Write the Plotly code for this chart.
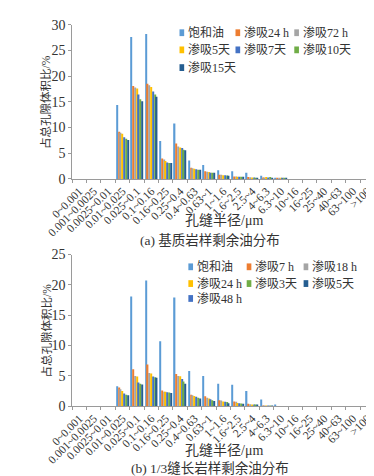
import plotly.graph_objects as go

W, H = 374, 476

categories = ["0~0.001", "0.001~0.0025", "0.0025~0.01", "0.01~0.025", "0.025~0.1",
              "0.1~0.16", "0.16~0.25", "0.25~0.4", "0.4~0.63", "0.63~1", "1~1.6",
              "1.6~2.5", "2.5~4", "4~6.3", "6.3~10", "10~16", "16~25", "25~40",
              "40~63", "63~100", ">100"]

# ---- panel (a): 基质岩样 ----
a_names = ["饱和油", "渗吸24 h", "渗吸72 h", "渗吸5天", "渗吸7天", "渗吸10天", "渗吸15天"]
a_sat   = [0, 0, 0, 14.4, 27.6, 28.2, 7.4, 10.8, 3.6, 2.7, 1.7, 1.5, 1.2, 0.6, 0.2, 0, 0, 0, 0, 0, 0]
a_24h   = [0, 0, 0, 9.2, 18.1, 18.5, 4.0, 6.9, 2.2, 1.5, 0.8, 0.5, 0.4, 0.3, 0.1, 0, 0, 0, 0, 0, 0]
a_72h   = [0, 0, 0, 9.0, 17.8, 18.2, 3.8, 6.3, 2.1, 1.4, 0.8, 0.5, 0.35, 0.3, 0.1, 0, 0, 0, 0, 0, 0]
a_5d    = [0, 0, 0, 8.8, 17.6, 17.9, 3.5, 6.1, 2.0, 1.35, 0.7, 0.45, 0.3, 0.4, 0.1, 0, 0, 0, 0, 0, 0]
a_7d    = [0, 0, 0, 8.1, 16.4, 17.0, 3.2, 6.0, 1.9, 1.2, 0.7, 0.45, 0.3, 0.3, 0.1, 0, 0, 0, 0, 0, 0]
a_10d   = [0, 0, 0, 7.8, 15.5, 16.4, 3.1, 5.7, 1.8, 1.2, 0.65, 0.45, 0.25, 0.4, 0.1, 0, 0, 0, 0, 0, 0]
a_15d   = [0, 0, 0, 7.6, 15.1, 16.0, 3.1, 5.6, 1.8, 1.2, 0.6, 0.45, 0.25, 0.2, 0.1, 0, 0, 0, 0, 0, 0]
a_series = [a_sat, a_24h, a_72h, a_5d, a_7d, a_10d, a_15d]
a_colors = ["#5B9BD5", "#ED7D31", "#A5A5A5", "#FFC000", "#4472C4", "#70AD47", "#255E91"]
a_legend_order = [0, 1, 2, 3, 4, 5, 6]

# ---- panel (b): 1/3缝长岩样 ----
b_names = ["饱和油", "渗吸7 h", "渗吸18 h", "渗吸24 h", "渗吸48 h", "渗吸3天", "渗吸5天"]
b_sat   = [0, 0, 0, 3.3, 18.1, 20.7, 10.7, 17.9, 5.8, 5.0, 3.7, 3.55, 2.5, 1.1, 0.25, 0, 0, 0, 0, 0, 0]
b_7h    = [0, 0, 0, 3.1, 6.1, 6.9, 2.6, 5.3, 1.9, 1.65, 1.0, 0.8, 0.4, 0.05, 0, 0, 0, 0, 0, 0, 0]
b_18h   = [0, 0, 0, 2.8, 5.0, 5.5, 2.4, 5.0, 1.8, 1.4, 0.95, 0.75, 0.35, 0.05, 0, 0, 0, 0, 0, 0, 0]
b_24h   = [0, 0, 0, 2.5, 4.9, 5.4, 2.4, 4.95, 1.7, 1.3, 0.8, 0.55, 0.3, 0.05, 0, 0, 0, 0, 0, 0, 0]
b_48h   = [0, 0, 0, 2.1, 3.9, 4.9, 2.3, 4.5, 1.55, 1.15, 0.75, 0.5, 0.25, 0.05, 0, 0, 0, 0, 0, 0, 0]
b_3d    = [0, 0, 0, 1.9, 3.7, 4.8, 2.25, 4.1, 1.4, 1.0, 0.7, 0.45, 0.2, 0.05, 0, 0, 0, 0, 0, 0, 0]
b_5d    = [0, 0, 0, 1.8, 3.6, 4.7, 2.2, 3.7, 1.3, 0.85, 0.5, 0.4, 0.2, 0.05, 0, 0, 0, 0, 0, 0, 0]
b_series = [b_sat, b_7h, b_18h, b_24h, b_48h, b_3d, b_5d]
b_colors = ["#5B9BD5", "#ED7D31", "#A5A5A5", "#FFC000", "#4472C4", "#70AD47", "#255E91"]
b_legend_order = [0, 1, 2, 3, 5, 6, 4]

y_title = "占总孔隙体积比/%"
x_title = "孔缝半径/μm"
captions = ["(a) 基质岩样剩余油分布", "(b) 1/3缝长岩样剩余油分布"]

FONT = "'Liberation Serif', 'Times New Roman', 'Noto Sans CJK SC', serif"
TXT = "#333333"
AX = "#9a9a9a"

def px(x):
    return x / W

def py(y):
    return 1 - y / H

fig = go.Figure()

for names, series, colors, xa, ya in [(a_names, a_series, a_colors, "x", "y"),
                                      (b_names, b_series, b_colors, "x2", "y2")]:
    for n, s, c in zip(names, series, colors):
        fig.add_trace(go.Bar(x=categories, y=s, name=n, marker=dict(color=c, line=dict(width=0)),
                             xaxis=xa, yaxis=ya, showlegend=False))

x_dom = [px(42), px(366)]
axis_common = dict(showline=True, linecolor=AX, linewidth=1, ticks="outside", ticklen=3,
                   tickcolor=AX, showgrid=False, zeroline=False)
xfont = dict(family=FONT, size=11.5, color=TXT)
yfont = dict(family=FONT, size=14, color=TXT)

fig.update_layout(
    width=W, height=H, margin=dict(l=0, r=0, t=0, b=0),
    paper_bgcolor="white", plot_bgcolor="white",
    barmode="group", bargap=0.12, bargroupgap=0.3,
    font=dict(family=FONT, color=TXT),
    xaxis=dict(domain=x_dom, anchor="y", type="category", categoryorder="array",
               categoryarray=categories, tickson="boundaries", tickangle=-45,
               range=[-0.5, 20.5], tickfont=xfont, **axis_common),
    yaxis=dict(domain=[py(169.3), py(10)], anchor="x", range=[0, 30], dtick=5,
               tickfont=yfont, **axis_common),
    xaxis2=dict(domain=x_dom, anchor="y2", type="category", categoryorder="array",
                categoryarray=categories, tickson="boundaries", tickangle=-45,
                range=[-0.5, 20.5], tickfont=xfont, **axis_common),
    yaxis2=dict(domain=[py(404), py(247.3)], anchor="x2", range=[0, 25], dtick=5,
                tickfont=yfont, **axis_common),
)

annotations = []
shapes = []

# axis titles and captions
for yc in [(10 + 169.3) / 2, (247.3 + 404) / 2]:
    annotations.append(dict(x=px(14), y=py(yc), xref="paper", yref="paper", text=y_title,
                            textangle=-90, showarrow=False, xanchor="center", yanchor="middle",
                            font=dict(family=FONT, size=11.5, color=TXT)))
for xt_y, cap, cap_y in [(212, captions[0], 232), (450, captions[1], 467.5)]:
    annotations.append(dict(x=px(205), y=py(xt_y), xref="paper", yref="paper", text=x_title,
                            showarrow=False, xanchor="center", yanchor="middle",
                            font=dict(family=FONT, size=14, color=TXT)))
    annotations.append(dict(x=px(190), y=py(cap_y), xref="paper", yref="paper", text=cap,
                            showarrow=False, xanchor="center", yanchor="middle",
                            font=dict(family=FONT, size=13.5, color=TXT)))

# legends (3 columns)
def legend(names, colors, order, col_x, row_y):
    for k, idx in enumerate(order):
        r, c = divmod(k, 3)
        sx = col_x[c]
        sy = row_y[r]
        shapes.append(dict(type="rect", xref="paper", yref="paper",
                           x0=px(sx), x1=px(sx + 5), y0=py(sy + 3.5), y1=py(sy - 3.5),
                           fillcolor=colors[idx], line=dict(width=0)))
        annotations.append(dict(x=px(sx + 7), y=py(sy), xref="paper", yref="paper",
                                text=names[idx], showarrow=False, xanchor="left",
                                yanchor="middle", font=dict(family=FONT, size=12, color=TXT)))

legend(a_names, a_colors, a_legend_order, [157, 217, 280], [18.3, 36, 54.3])
legend(b_names, b_colors, b_legend_order, [166.5, 229, 290], [260, 277.3, 292.7])

fig.update_layout(annotations=annotations, shapes=shapes)
fig.write_html("out.html")
